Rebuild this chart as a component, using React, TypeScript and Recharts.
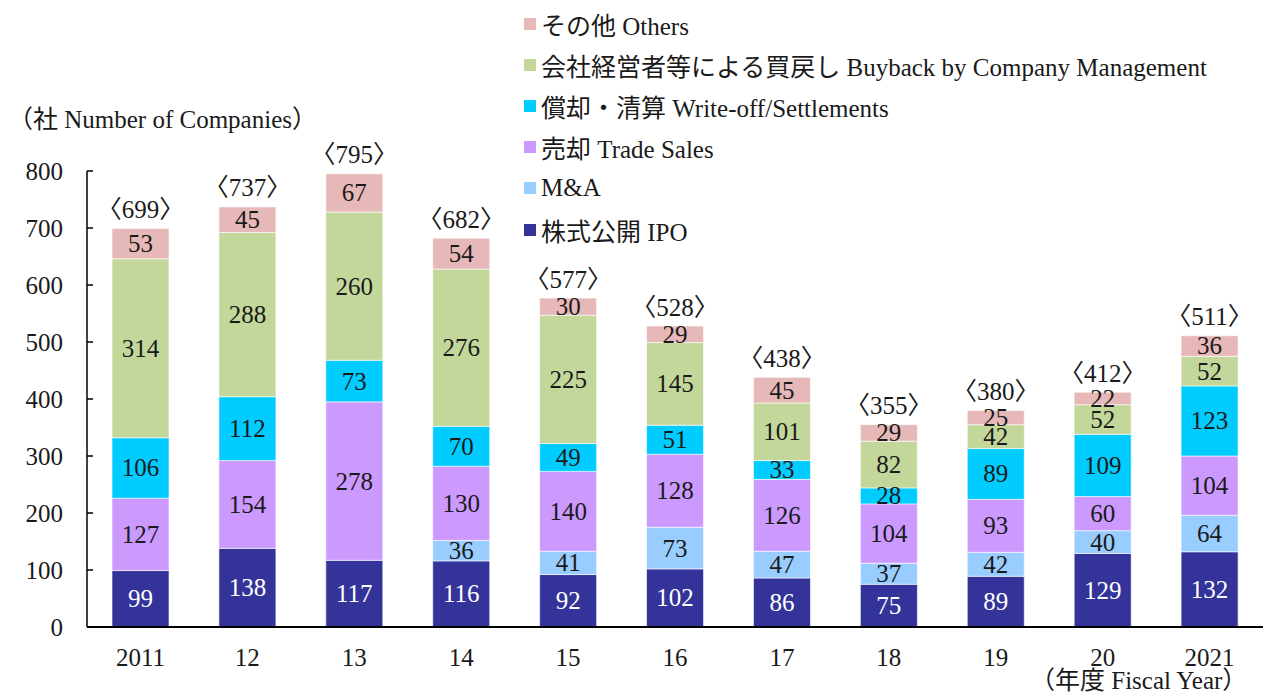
import { BarChart, Bar, XAxis, YAxis, LabelList } from 'recharts';

const categories = ['2011', '12', '13', '14', '15', '16', '17', '18', '19', '20', '2021'];
const ipo = [99, 138, 117, 116, 92, 102, 86, 75, 89, 129, 132];
const mna = [0, 0, 0, 36, 41, 73, 47, 37, 42, 40, 64];
const tradeSales = [127, 154, 278, 130, 140, 128, 126, 104, 93, 60, 104];
const writeOff = [106, 112, 73, 70, 49, 51, 33, 28, 89, 109, 123];
const buyback = [314, 288, 260, 276, 225, 145, 101, 82, 42, 52, 52];
const others = [53, 45, 67, 54, 30, 29, 45, 29, 25, 22, 36];
const totals = [699, 737, 795, 682, 577, 528, 438, 355, 380, 412, 511];
const yTicks = [0, 100, 200, 300, 400, 500, 600, 700, 800];

const FONT = "'Liberation Serif', 'Noto Sans CJK JP', serif";
const FS = 25;

const series = [
  { key: 'ipo', name: '株式公開 IPO', color: '#333399', text: '#ffffff' },
  { key: 'mna', name: 'M&A', color: '#99CCFF', text: '#1a1a1a' },
  { key: 'trade', name: '売却 Trade Sales', color: '#CC99FF', text: '#1a1a1a' },
  { key: 'writeoff', name: '償却・清算 Write-off/Settlements', color: '#00CCFF', text: '#1a1a1a' },
  { key: 'buyback', name: '会社経営者等による買戻し Buyback by Company Management', color: '#C4D79B', text: '#1a1a1a' },
  { key: 'others', name: 'その他 Others', color: '#E6B9B8', text: '#1a1a1a' },
];

const data = categories.map((year, i) => ({
  year,
  ipo: ipo[i],
  mna: mna[i],
  trade: tradeSales[i],
  writeoff: writeOff[i],
  buyback: buyback[i],
  others: others[i],
  total: totals[i],
}));

const makeSegmentLabel = (fill: string) => (props: any) => {
  const { x, y, width, height, value } = props;
  if (!value) return null;
  return (
    <text
      x={x + width / 2}
      y={y + height / 2}
      textAnchor="middle"
      dominantBaseline="central"
      fill={fill}
      fontFamily={FONT}
      fontSize={FS}
    >
      {value}
    </text>
  );
};

const TotalLabel = (props: any) => {
  const { x, y, width, value } = props;
  return (
    <text
      x={x + width / 2}
      y={y - 19}
      textAnchor="middle"
      dominantBaseline="central"
      fill="#1a1a1a"
      fontFamily={FONT}
      fontSize={FS}
    >
      {`〈${value}〉`}
    </text>
  );
};

const YTick = (props: any) => {
  const { x, y, payload } = props;
  return (
    <g>
      <line x1={x + 24} x2={x + 30} y1={y} y2={y} stroke="#000" strokeWidth={1.5} />
      <text x={x} y={y} textAnchor="end" dominantBaseline="central" fill="#1a1a1a" fontFamily={FONT} fontSize={FS}>
        {payload.value}
      </text>
    </g>
  );
};

const XTick = (props: any) => {
  const { x, y, payload } = props;
  return (
    <text x={x} y={y + 30} textAnchor="middle" dominantBaseline="central" fill="#1a1a1a" fontFamily={FONT} fontSize={FS}>
      {payload.value}
    </text>
  );
};

const ChartLegend = () => {
  const items = [...series].reverse();
  return (
    <div style={{ fontFamily: FONT, fontSize: FS, color: '#1a1a1a', whiteSpace: 'nowrap' }}>
      {items.map((s) => (
        <div key={s.key} style={{ display: 'flex', alignItems: 'center', height: 41.2 }}>
          <div style={{ width: 12, height: 12, backgroundColor: s.color, marginRight: 5 }} />
          <span>{s.name}</span>
        </div>
      ))}
    </div>
  );
};

export default function App() {
  return (
    <div style={{ position: 'absolute', left: 0, top: 0, width: 1263, height: 694, background: '#fff', overflow: 'hidden' }}>
      <BarChart
        width={1263}
        height={694}
        data={data}
        margin={{ top: 171, right: 0, bottom: 27, left: 0 }}
        barSize={57}
      >
        <XAxis
          dataKey="year"
          height={40}
          interval={0}
          axisLine={{ stroke: '#000', strokeWidth: 2 }}
          tickLine={false}
          tickSize={0}
          tickMargin={0}
          tick={<XTick />}
        />
        <YAxis
          width={87}
          domain={[0, 800]}
          ticks={yTicks}
          interval={0}
          axisLine={{ stroke: '#000', strokeWidth: 1.5 }}
          tickLine={false}
          tickSize={0}
          tickMargin={24}
          tick={<YTick />}
        />
        {series.map((s) => (
          <Bar
            key={s.key}
            dataKey={s.key}
            name={s.name}
            stackId="a"
            fill={s.color}
            stroke="#ffffff"
            strokeWidth={0.6}
            isAnimationActive={false}
          >
            <LabelList dataKey={s.key} content={makeSegmentLabel(s.text)} />
            {s.key === 'others' && <LabelList dataKey="total" content={<TotalLabel />} />}
          </Bar>
        ))}
      </BarChart>
      <div style={{ position: 'absolute', left: 524, top: 3 }}>
        <ChartLegend />
      </div>
      <div
        style={{
          position: 'absolute',
          left: 8,
          top: 106,
          fontFamily: FONT,
          fontSize: FS,
          lineHeight: '28px',
          color: '#1a1a1a',
          whiteSpace: 'nowrap',
        }}
      >
        （社 Number of Companies）
      </div>
      <div
        style={{
          position: 'absolute',
          left: 1030,
          top: 668,
          fontFamily: FONT,
          fontSize: FS,
          lineHeight: '26px',
          color: '#1a1a1a',
          whiteSpace: 'nowrap',
        }}
      >
        （年度 Fiscal Year）
      </div>
    </div>
  );
}
